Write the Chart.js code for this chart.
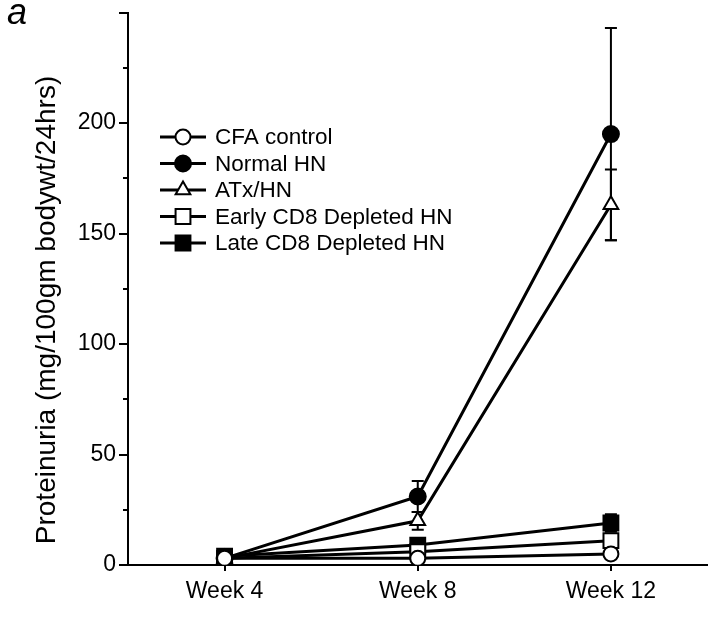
<!DOCTYPE html>
<html>
<head>
<meta charset="utf-8">
<script src="https://cdn.jsdelivr.net/npm/chart.js@4.4.1/dist/chart.umd.min.js"></script>
<style>
  html, body { margin: 0; padding: 0; background: #fff; }
</style>
</head>
<body>
<canvas id="chart" width="720" height="626"></canvas>
<script>
// data
const weeks = ['Week 4', 'Week 8', 'Week 12'];
const seriesNames = ['CFA control', 'Normal HN', 'ATx/HN', 'Early CD8 Depleted HN', 'Late CD8 Depleted HN'];

const cfaControl = [3, 3, 5];
const cfaErr = [0.5, 1, 1];
const normalHN = [3, 31, 195];
const normalErr = [1, 7, 48];
const atxHN = [3, 20, 163];
const atxErr = [1, 4, 16];
const earlyCD8 = [3, 6, 11];
const earlyErr = [1, 2, 3];
const lateCD8 = [4, 9, 19];
const lateErr = [1, 2, 4];

const yLabels = [0, 50, 100, 150, 200];
const yTitle = 'Proteinuria (mg/100gm bodywt/24hrs)';

const FONT = '"Liberation Sans", Arial, Helvetica, sans-serif';

function series(label, data, err, style, fill, radius) {
    return {
        label: label,
        data: data,
        errors: err,
        borderColor: '#000',
        borderWidth: 3,
        pointStyle: style,
        pointRadius: radius,
        pointHoverRadius: radius,
        pointBackgroundColor: fill,
        pointBorderColor: '#000',
        pointBorderWidth: 2,
        tension: 0
    };
}

// error bars, drawn under the markers
const errorBars = {
    id: 'errorBars',
    beforeDatasetsDraw(chart) {
        const ctx = chart.ctx;
        const y = chart.scales.y;
        ctx.save();
        ctx.strokeStyle = '#000';
        ctx.lineWidth = 2;
        chart.data.datasets.forEach((ds, i) => {
            const meta = chart.getDatasetMeta(i);
            meta.data.forEach((pt, j) => {
                const e = ds.errors[j];
                if (!e) return;
                const top = y.getPixelForValue(ds.data[j] + e);
                const bot = y.getPixelForValue(ds.data[j] - e);
                ctx.beginPath();
                ctx.moveTo(pt.x, top); ctx.lineTo(pt.x, bot);
                ctx.moveTo(pt.x - 6, top); ctx.lineTo(pt.x + 6, top);
                ctx.moveTo(pt.x - 6, bot); ctx.lineTo(pt.x + 6, bot);
                ctx.stroke();
            });
        });
        ctx.restore();
    }
};

// outward tick marks (short minor ticks on y)
const tickMarks = {
    id: 'tickMarks',
    afterDraw(chart) {
        const ctx = chart.ctx;
        const x = chart.scales.x, y = chart.scales.y;
        ctx.save();
        ctx.strokeStyle = '#000';
        ctx.lineWidth = 2;
        y.ticks.forEach(t => {
            const py = Math.round(y.getPixelForValue(t.value));
            const len = t.value % 50 === 0 ? 9 : 5;
            ctx.beginPath();
            ctx.moveTo(y.right - len, py);
            ctx.lineTo(y.right, py);
            ctx.stroke();
        });
        x.ticks.forEach((t, i) => {
            const px = Math.round(x.getPixelForTick(i));
            ctx.beginPath();
            ctx.moveTo(px, x.top);
            ctx.lineTo(px, x.top + 6);
            ctx.stroke();
        });
        // y axis title, rotated
        ctx.fillStyle = '#000';
        ctx.font = '28px ' + FONT;
        ctx.textAlign = 'center';
        ctx.textBaseline = 'middle';
        ctx.translate(47, 310);
        ctx.rotate(-Math.PI / 2);
        ctx.fillText(yTitle, 0, 0);
        ctx.restore();
    }
};

// legend inside the plot, line + marker + text
const lineLegend = {
    id: 'lineLegend',
    afterDraw(chart) {
        const ctx = chart.ctx;
        const left = 160, top = 137, gap = 26.5;
        ctx.save();
        chart.data.datasets.forEach((ds, i) => {
            const yy = top + i * gap;
            ctx.strokeStyle = '#000';
            ctx.lineWidth = 3;
            ctx.beginPath();
            ctx.moveTo(left, yy);
            ctx.lineTo(left + 46, yy);
            ctx.stroke();
            ctx.fillStyle = ds.pointBackgroundColor;
            ctx.strokeStyle = '#000';
            ctx.lineWidth = 2;
            Chart.helpers.drawPoint(ctx, {
                pointStyle: ds.pointStyle,
                radius: ds.pointRadius,
                borderWidth: 2,
                rotation: 0
            }, left + 23, yy);
            ctx.fillStyle = '#000';
            ctx.font = '22.5px ' + FONT;
            ctx.textBaseline = 'middle';
            ctx.textAlign = 'left';
            ctx.fillText(ds.label, left + 55, yy + 1);
        });
        // panel letter
        ctx.font = 'italic 36px ' + FONT;
        ctx.textBaseline = 'top';
        ctx.fillText('a', 7, -4);
        ctx.restore();
    }
};

new Chart(document.getElementById('chart'), {
    type: 'line',
    data: {
        labels: weeks,
        datasets: [
            series(seriesNames[0], cfaControl, cfaErr, 'circle', '#fff', 7.5),
            series(seriesNames[1], normalHN, normalErr, 'circle', '#000', 8),
            series(seriesNames[2], atxHN, atxErr, 'triangle', '#fff', 8.5),
            series(seriesNames[3], earlyCD8, earlyErr, 'rect', '#fff', 10.5),
            series(seriesNames[4], lateCD8, lateErr, 'rect', '#000', 10.5)
        ]
    },
    options: {
        responsive: false,
        animation: false,
        events: [],
        layout: { padding: { top: 6, right: -2, left: 0, bottom: 0 } },
        plugins: {
            legend: { display: false },
            tooltip: { enabled: false }
        },
        scales: {
            x: {
                offset: true,
                grid: { display: false },
                border: { display: true, color: '#000', width: 2 },
                ticks: {
                    color: '#000',
                    padding: 5,
                    font: { family: FONT, size: 23 }
                },
                afterFit(scale) {
                    scale.height = 61;
                    scale.paddingLeft = 0;
                    scale.paddingRight = 0;
                }
            },
            y: {
                min: 0,
                max: 250,
                grid: { display: false },
                border: { display: true, color: '#000', width: 2 },
                ticks: {
                    stepSize: 25,
                    color: '#000',
                    padding: 4,
                    font: { family: FONT, size: 23 },
                    callback: v => yLabels.includes(v) ? String(v) : ''
                },
                afterFit(scale) {
                    scale.width = 128;
                    scale.paddingTop = 0;
                    scale.paddingBottom = 0;
                }
            }
        }
    },
    plugins: [errorBars, tickMarks, lineLegend]
});
</script>
</body>
</html>
